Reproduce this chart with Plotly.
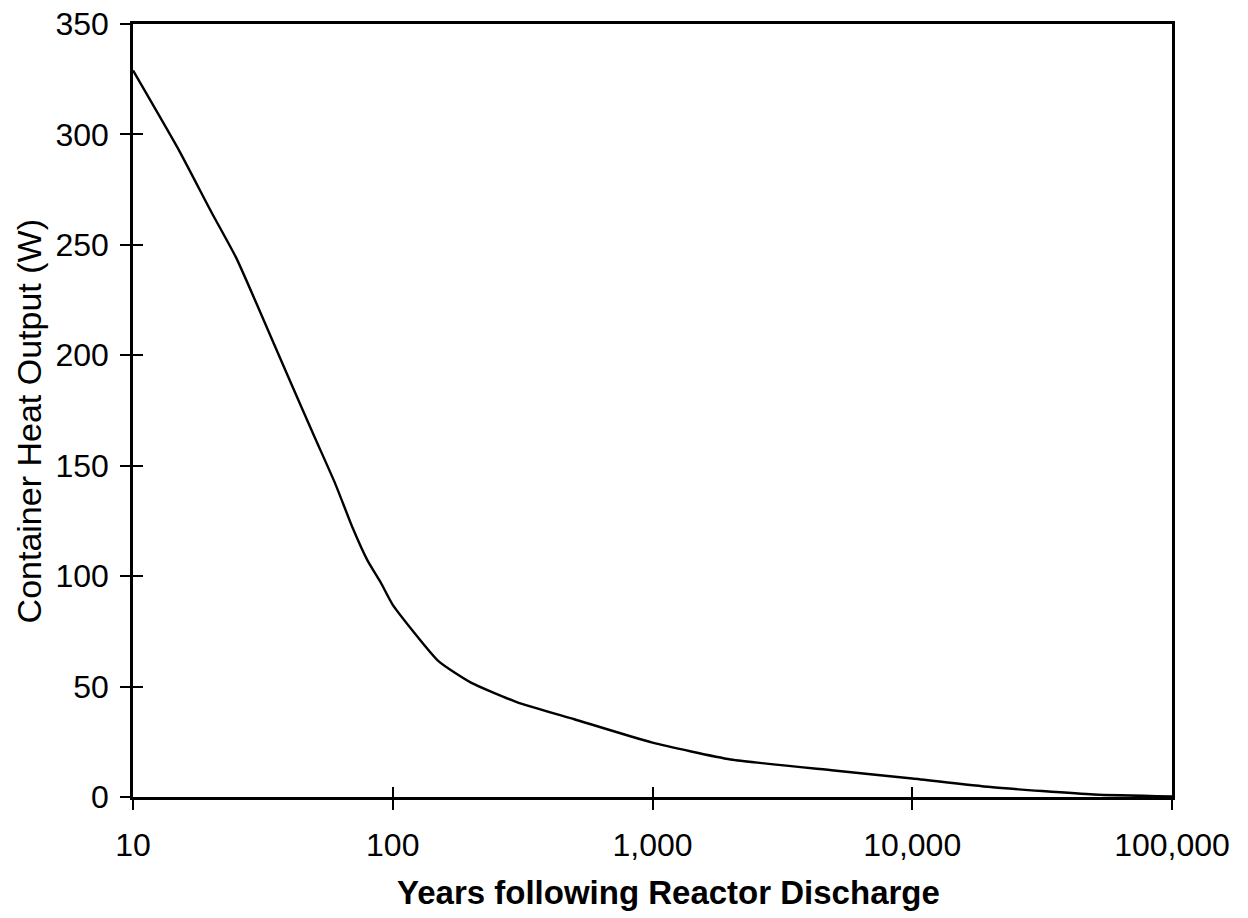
import plotly.graph_objects as go

years = [10, 15, 20, 25, 30, 40, 50, 60, 70, 80, 90, 100, 150, 200, 300, 500,
         1000, 2000, 5000, 10000, 20000, 50000, 100000]
heat_w = [329, 293, 265, 244, 223, 189, 163, 142, 122, 107, 97, 87, 61.5, 51.8,
          43, 35.2, 24.6, 17, 12, 8.4, 4.5, 1.1, 0.2]

x_tickvals = [10, 100, 1000, 10000, 100000]
x_ticktext = ["10", "100", "1,000", "10,000", "100,000"]
y_tickvals = [0, 50, 100, 150, 200, 250, 300, 350]

x_title = "Years following Reactor Discharge"
y_title = "Container Heat Output (W)"

FONT = "Liberation Sans, Arial, sans-serif"

fig = go.Figure()
fig.add_trace(go.Scatter(x=years, y=heat_w, mode="lines",
                         line=dict(color="black", width=2.4, shape="spline", smoothing=0.5),
                         showlegend=False))

fig.update_layout(
    width=1248, height=918,
    margin=dict(l=133, r=76, t=24, b=121),
    paper_bgcolor="white", plot_bgcolor="white",
    font=dict(family=FONT, color="black", size=32),
    xaxis=dict(type="log", range=[1, 5], tickvals=x_tickvals, ticktext=x_ticktext,
               ticks="outside", ticklen=10, tickwidth=1.5, tickcolor="black",
               showline=True, linecolor="black", linewidth=2.5, mirror=True,
               showgrid=False, zeroline=False, ticklabelstandoff=8,
               ticklabeloverflow="allow", automargin=False, tickfont=dict(size=32)),
    yaxis=dict(range=[0, 350], tickvals=y_tickvals,
               ticks="outside", ticklen=10, tickwidth=1.5, tickcolor="black",
               showline=True, linecolor="black", linewidth=2.5, mirror=True,
               showgrid=False, zeroline=False, ticklabelstandoff=5,
               ticklabeloverflow="allow", automargin=False, tickfont=dict(size=32)),
    xaxis2=dict(type="log", range=[1, 5], overlaying="x", side="bottom", anchor="y",
                tickvals=x_tickvals, ticks="inside", ticklen=10, tickwidth=1.5,
                tickcolor="black", showticklabels=False, showline=False,
                showgrid=False, zeroline=False, automargin=False),
    yaxis2=dict(range=[0, 350], overlaying="y", side="left", anchor="x",
                tickvals=y_tickvals, ticks="inside", ticklen=10, tickwidth=1.5,
                tickcolor="black", showticklabels=False, showline=False,
                showgrid=False, zeroline=False, automargin=False),
    annotations=[
        dict(text=x_title, xref="paper", yref="paper", x=0.515, y=-0.124,
             xanchor="center", yanchor="middle", showarrow=False,
             font=dict(size=33, family=FONT, weight="bold")),
        dict(text=y_title, xref="paper", yref="paper", x=-0.1, y=0.486,
             xanchor="center", yanchor="middle", showarrow=False, textangle=-90,
             font=dict(size=34)),
    ],
)
fig.add_trace(go.Scatter(x=[10], y=[0], xaxis="x2", yaxis="y2", mode="markers",
                         marker=dict(opacity=0), showlegend=False, hoverinfo="skip"))

fig.write_html("out.html", config={"displayModeBar": False},
               post_script="document.body.style.margin='0';document.body.style.overflow='hidden';")
